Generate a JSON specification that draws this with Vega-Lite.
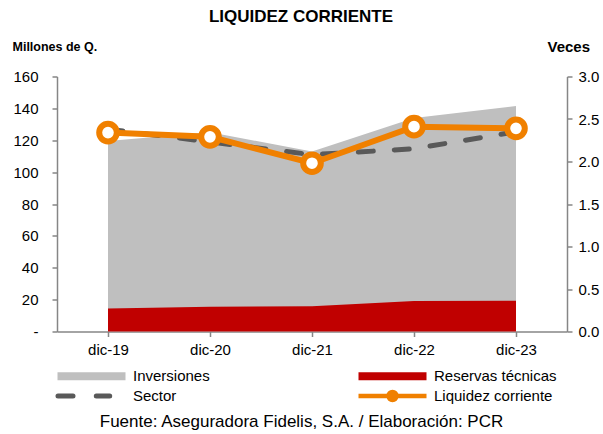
{
  "$schema": "https://vega.github.io/schema/vega-lite/v6.json",
  "width": 510,
  "height": 255,
  "autosize": {"type": "none"},
  "padding": {"left": 57, "top": 76.5, "right": 36, "bottom": 102.5},
  "background": "white",
  "config": {
    "font": "Liberation Sans",
    "view": {"stroke": null},
    "axis": {
      "grid": false,
      "domainColor": "#868686",
      "domainWidth": 1.5,
      "tickColor": "#868686",
      "tickWidth": 1.5,
      "tickSize": 5,
      "labelColor": "#000000",
      "labelFontSize": 15,
      "titleColor": "#000000"
    }
  },
  "title": {
    "text": "LIQUIDEZ CORRIENTE",
    "fontSize": 17,
    "fontWeight": "bold",
    "color": "#000000",
    "anchor": "middle",
    "dx": -11,
    "offset": 13
  },
  "data": {
    "values": [
      {"fecha": "dic-19", "serie": "Inversiones", "valor": 119.5},
      {"fecha": "dic-20", "serie": "Inversiones", "valor": 125},
      {"fecha": "dic-21", "serie": "Inversiones", "valor": 113},
      {"fecha": "dic-22", "serie": "Inversiones", "valor": 134},
      {"fecha": "dic-23", "serie": "Inversiones", "valor": 141.5},
      {"fecha": "dic-19", "serie": "Reservas técnicas", "valor": 14.5},
      {"fecha": "dic-20", "serie": "Reservas técnicas", "valor": 15.5},
      {"fecha": "dic-21", "serie": "Reservas técnicas", "valor": 15.9},
      {"fecha": "dic-22", "serie": "Reservas técnicas", "valor": 19.1},
      {"fecha": "dic-23", "serie": "Reservas técnicas", "valor": 19.3},
      {"fecha": "dic-19", "serie": "Sector", "valor": 2.38},
      {"fecha": "dic-20", "serie": "Sector", "valor": 2.23},
      {"fecha": "dic-21", "serie": "Sector", "valor": 2.08},
      {"fecha": "dic-22", "serie": "Sector", "valor": 2.15},
      {"fecha": "dic-23", "serie": "Sector", "valor": 2.35},
      {"fecha": "dic-19", "serie": "Liquidez corriente", "valor": 2.34},
      {"fecha": "dic-20", "serie": "Liquidez corriente", "valor": 2.29},
      {"fecha": "dic-21", "serie": "Liquidez corriente", "valor": 1.98},
      {"fecha": "dic-22", "serie": "Liquidez corriente", "valor": 2.41},
      {"fecha": "dic-23", "serie": "Liquidez corriente", "valor": 2.39}
    ]
  },
  "encoding": {
    "x": {
      "field": "fecha",
      "type": "ordinal",
      "sort": null,
      "scale": {"type": "point", "padding": 0.5},
      "axis": {
        "labelAngle": 0,
        "labelPadding": 6,
        "title": "Fuente: Aseguradora Fidelis, S.A. / Elaboración: PCR",
        "titleFontSize": 17,
        "titleFontWeight": "normal",
        "titleX": 244,
        "titleY": 90,
        "titleAlign": "center",
        "titleBaseline": "middle"
      }
    }
  },
  "layer": [
    {
      "transform": [{"filter": "datum.serie === 'Inversiones' || datum.serie === 'Reservas técnicas'"}],
      "layer": [
        {
          "transform": [{"filter": "datum.serie === 'Inversiones'"}],
          "mark": {"type": "area", "opacity": 1, "line": false}
        },
        {
          "transform": [{"filter": "datum.serie === 'Reservas técnicas'"}],
          "mark": {"type": "area", "opacity": 1, "line": false}
        }
      ],
      "encoding": {
        "y": {
          "field": "valor",
          "type": "quantitative",
          "stack": null,
          "scale": {"domain": [0, 160], "nice": false},
          "axis": {
            "orient": "left",
            "values": [0, 20, 40, 60, 80, 100, 120, 140, 160],
            "labelExpr": "datum.value === 0 ? '-' : datum.label",
            "labelPadding": 14,
            "title": "Millones de Q.",
            "titleAngle": 0,
            "titleAlign": "left",
            "titleBaseline": "middle",
            "titleX": -45,
            "titleY": -30.5,
            "titleFontSize": 12.5,
            "titleFontWeight": "bold"
          }
        },
        "color": {
          "field": "serie",
          "type": "nominal",
          "scale": {
            "domain": ["Inversiones", "Reservas técnicas", "Sector", "Liquidez corriente"],
            "range": ["#bfbfbf", "#c00000", "#595959", "#f08000"]
          },
          "legend": {
            "orient": "none",
            "direction": "horizontal",
            "legendX": 0,
            "legendY": 292,
            "columns": 2,
            "title": null,
            "padding": 0,
            "symbolSize": 100,
            "symbolStrokeWidth": 0,
            "symbolOffset": 27,
            "labelOffset": 34,
            "labelFontSize": 15,
            "labelColor": "#000000",
            "columnPadding": 139,
            "rowPadding": -2,
            "encoding": {
              "symbols": {
                "shape": {"value": {"expr": "(datum.value === 'Inversiones' || datum.value === 'Reservas técnicas') ? 'M-6.8,-0.8H6.8V0.8H-6.8Z' : (datum.value === 'Sector' ? 'M-6.7,0H-3.7M0.96,0H3.64' : 'M-6.8,0H-0.8M0.8,0H6.8M0.8,0A0.8,0.8 0 1 1 -0.8,0A0.8,0.8 0 1 1 0.8,0')"}},
                "fill": {"value": {"expr": "datum.value === 'Inversiones' ? '#bfbfbf' : (datum.value === 'Reservas técnicas' ? '#c00000' : (datum.value === 'Liquidez corriente' ? '#ffffff' : 'transparent'))"}},
                "stroke": {"value": {"expr": "datum.value === 'Sector' ? '#595959' : (datum.value === 'Liquidez corriente' ? '#f08000' : 'transparent')"}},
                "strokeWidth": {"value": {"expr": "datum.value === 'Sector' ? 5 : (datum.value === 'Liquidez corriente' ? 4.5 : 0)"}},
                "strokeCap": {"value": {"expr": "datum.value === 'Sector' ? 'round' : 'butt'"}},
                "opacity": {"value": 1}
              }
            }
          }
        }
      }
    },
    {
      "transform": [{"filter": "datum.serie === 'Sector' || datum.serie === 'Liquidez corriente'"}],
      "layer": [
        {
          "transform": [{"filter": "datum.serie === 'Sector'"}],
          "mark": {"type": "line", "color": "#595959", "strokeWidth": 5, "strokeDash": [15, 21], "strokeCap": "round"}
        },
        {
          "transform": [{"filter": "datum.serie === 'Liquidez corriente'"}],
          "mark": {"type": "line", "color": "#f08000", "strokeWidth": 6}
        },
        {
          "transform": [{"filter": "datum.serie === 'Liquidez corriente'"}],
          "mark": {"type": "point", "shape": "circle", "filled": false, "fill": "#ffffff", "fillOpacity": 1, "stroke": "#f08000", "strokeWidth": 6, "size": 310, "opacity": 1}
        }
      ],
      "encoding": {
        "y": {
          "field": "valor",
          "type": "quantitative",
          "scale": {"domain": [0, 3], "nice": false},
          "axis": {
            "orient": "right",
            "values": [0, 0.5, 1, 1.5, 2, 2.5, 3],
            "format": ".1f",
            "labelPadding": 6,
            "title": "Veces",
            "titleAngle": 0,
            "titleAlign": "left",
            "titleBaseline": "middle",
            "titleX": -20,
            "titleY": -30.5,
            "titleFontSize": 15,
            "titleFontWeight": "bold"
          }
        }
      }
    }
  ],
  "resolve": {"scale": {"y": "independent"}, "axis": {"y": "independent"}}
}
